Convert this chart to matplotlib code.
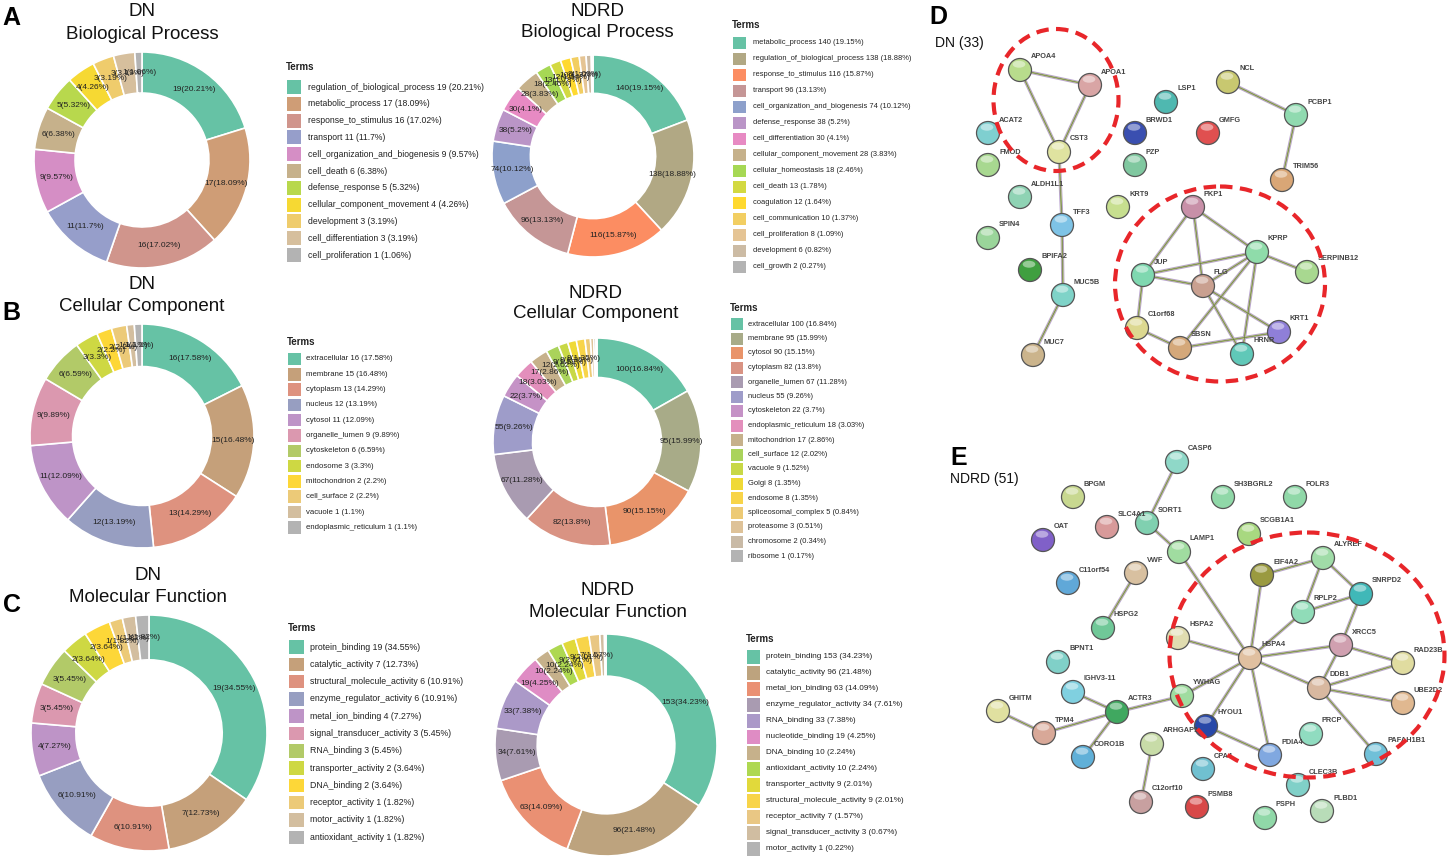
import matplotlib
matplotlib.use("Agg")
import matplotlib.pyplot as plt
from matplotlib.patches import Rectangle, Circle, Ellipse
from matplotlib.colors import LinearSegmentedColormap
import numpy as np

plt.rcParams['font.family'] = ['Liberation Sans', 'DejaVu Sans']

W, H = 1447, 858

# ---------------- data ----------------
dn_bp_terms = ["regulation_of_biological_process", "metabolic_process", "response_to_stimulus",
               "transport", "cell_organization_and_biogenesis", "cell_death", "defense_response",
               "cellular_component_movement", "development", "cell_differentiation", "cell_proliferation"]
dn_bp_counts = [19, 17, 16, 11, 9, 6, 5, 4, 3, 3, 1]
dn_bp_pcts = [20.21, 18.09, 17.02, 11.7, 9.57, 6.38, 5.32, 4.26, 3.19, 3.19, 1.06]

ndrd_bp_terms = ["metabolic_process", "regulation_of_biological_process", "response_to_stimulus",
                 "transport", "cell_organization_and_biogenesis", "defense_response",
                 "cell_differentiation", "cellular_component_movement", "cellular_homeostasis",
                 "cell_death", "coagulation", "cell_communication", "cell_proliferation",
                 "development", "cell_growth"]
ndrd_bp_counts = [140, 138, 116, 96, 74, 38, 30, 28, 18, 13, 12, 10, 8, 6, 2]
ndrd_bp_pcts = [19.15, 18.88, 15.87, 13.13, 10.12, 5.2, 4.1, 3.83, 2.46, 1.78, 1.64, 1.37, 1.09, 0.82, 0.27]

dn_cc_terms = ["extracellular", "membrane", "cytoplasm", "nucleus", "cytosol", "organelle_lumen",
               "cytoskeleton", "endosome", "mitochondrion", "cell_surface", "vacuole",
               "endoplasmic_reticulum"]
dn_cc_counts = [16, 15, 13, 12, 11, 9, 6, 3, 2, 2, 1, 1]
dn_cc_pcts = [17.58, 16.48, 14.29, 13.19, 12.09, 9.89, 6.59, 3.3, 2.2, 2.2, 1.1, 1.1]

ndrd_cc_terms = ["extracellular", "membrane", "cytosol", "cytoplasm", "organelle_lumen", "nucleus",
                 "cytoskeleton", "endoplasmic_reticulum", "mitochondrion", "cell_surface", "vacuole",
                 "Golgi", "endosome", "spliceosomal_complex", "proteasome", "chromosome", "ribosome"]
ndrd_cc_counts = [100, 95, 90, 82, 67, 55, 22, 18, 17, 12, 9, 8, 8, 5, 3, 2, 1]
ndrd_cc_pcts = [16.84, 15.99, 15.15, 13.8, 11.28, 9.26, 3.7, 3.03, 2.86, 2.02, 1.52, 1.35, 1.35,
                0.84, 0.51, 0.34, 0.17]

dn_mf_terms = ["protein_binding", "catalytic_activity", "structural_molecule_activity",
               "enzyme_regulator_activity", "metal_ion_binding", "signal_transducer_activity",
               "RNA_binding", "transporter_activity", "DNA_binding", "receptor_activity",
               "motor_activity", "antioxidant_activity"]
dn_mf_counts = [19, 7, 6, 6, 4, 3, 3, 2, 2, 1, 1, 1]
dn_mf_pcts = [34.55, 12.73, 10.91, 10.91, 7.27, 5.45, 5.45, 3.64, 3.64, 1.82, 1.82, 1.82]

ndrd_mf_terms = ["protein_binding", "catalytic_activity", "metal_ion_binding",
                 "enzyme_regulator_activity", "RNA_binding", "nucleotide_binding", "DNA_binding",
                 "antioxidant_activity", "transporter_activity", "structural_molecule_activity",
                 "receptor_activity", "signal_transducer_activity", "motor_activity"]
ndrd_mf_counts = [153, 96, 63, 34, 33, 19, 10, 10, 9, 9, 7, 3, 1]
ndrd_mf_pcts = [34.23, 21.48, 14.09, 7.61, 7.38, 4.25, 2.24, 2.24, 2.01, 2.01, 1.57, 0.67, 0.22]

# network D (DN)
dn_nodes = ["APOA4", "APOA1", "CST3", "ACAT2", "FMOD", "ALDH1L1", "TFF3", "SPIN4", "BPIFA2",
            "MUC5B", "MUC7", "LSP1", "BRWD1", "PZP", "KRT9", "GMFG", "NCL", "PCBP1", "TRIM56",
            "PKP1", "KPRP", "SERPINB12", "JUP", "FLG", "C1orf68", "SBSN", "HRNR", "KRT1"]
dn_edges = [("APOA4", "APOA1"), ("APOA4", "CST3"), ("APOA1", "CST3"), ("CST3", "TFF3"),
            ("TFF3", "MUC5B"), ("MUC5B", "MUC7"), ("NCL", "PCBP1"), ("PCBP1", "TRIM56"),
            ("PKP1", "JUP"), ("PKP1", "FLG"), ("PKP1", "KPRP"), ("JUP", "FLG"), ("JUP", "KPRP"),
            ("JUP", "C1orf68"), ("KPRP", "SERPINB12"), ("KPRP", "FLG"), ("KPRP", "SBSN"),
            ("KPRP", "HRNR"), ("FLG", "HRNR"), ("FLG", "KRT1"), ("C1orf68", "SBSN"),
            ("SBSN", "KRT1")]

# network E (NDRD)
ndrd_nodes = ["CASP6", "BPGM", "SH3BGRL2", "FOLR3", "SLC4A1", "SORT1", "OAT", "SCGB1A1", "LAMP1",
              "ALYREF", "EIF4A2", "C11orf54", "VWF", "SNRPD2", "RPLP2", "HSPG2", "HSPA2", "XRCC5",
              "HSPA4", "BPNT1", "RAD23B", "DDB1", "IGHV3-11", "YWHAG", "UBE2D2", "GHITM", "ACTR3",
              "TPM4", "HYOU1", "PRCP", "ARHGAP1", "CORO1B", "PDIA4", "PAFAH1B1", "CPA4", "CLEC3B",
              "C12orf10", "PSMB8", "PLBD1", "PSPH"]
ndrd_edges = [("CASP6", "SORT1"), ("SORT1", "LAMP1"), ("LAMP1", "HSPA4"), ("VWF", "HSPG2"),
              ("HSPA4", "EIF4A2"), ("HSPA4", "RPLP2"), ("HSPA4", "HSPA2"), ("HSPA4", "XRCC5"),
              ("HSPA4", "DDB1"), ("HSPA4", "YWHAG"), ("HSPA4", "HYOU1"), ("HSPA4", "PDIA4"),
              ("EIF4A2", "ALYREF"), ("ALYREF", "RPLP2"), ("ALYREF", "SNRPD2"), ("RPLP2", "SNRPD2"),
              ("SNRPD2", "XRCC5"), ("XRCC5", "RAD23B"), ("XRCC5", "DDB1"), ("DDB1", "RAD23B"),
              ("DDB1", "UBE2D2"), ("DDB1", "PAFAH1B1"), ("YWHAG", "ACTR3"), ("ACTR3", "IGHV3-11"),
              ("ACTR3", "TPM4"), ("ACTR3", "CORO1B"), ("TPM4", "GHITM"), ("HYOU1", "PDIA4"),
              ("ARHGAP1", "C12orf10")]

# ---------------- layout (pixel positions) ----------------
dn_layout = {"APOA4": (1020, 70), "APOA1": (1090, 85), "CST3": (1059, 152), "ACAT2": (988, 133),
             "FMOD": (988, 165), "ALDH1L1": (1020, 197), "TFF3": (1062, 225), "SPIN4": (988, 238),
             "BPIFA2": (1030, 270), "MUC5B": (1063, 295), "MUC7": (1033, 355), "LSP1": (1166, 102),
             "BRWD1": (1135, 133), "PZP": (1135, 165), "KRT9": (1118, 207), "GMFG": (1208, 133),
             "NCL": (1228, 82), "PCBP1": (1296, 115), "TRIM56": (1282, 180), "PKP1": (1193, 207),
             "KPRP": (1257, 252), "SERPINB12": (1307, 272), "JUP": (1143, 275), "FLG": (1203, 286),
             "C1orf68": (1137, 328), "SBSN": (1180, 348), "HRNR": (1242, 354), "KRT1": (1279, 332)}
dn_colors = {"APOA4": "#b8dc8c", "APOA1": "#d9a5a5", "CST3": "#dfe3a0", "ACAT2": "#7fcfd0",
             "FMOD": "#a8d890", "ALDH1L1": "#8fd3b4", "TFF3": "#7ec3e6", "SPIN4": "#9ad59a",
             "BPIFA2": "#3f9f40", "MUC5B": "#7fd3c8", "MUC7": "#cbb48c", "LSP1": "#4fb8b0",
             "BRWD1": "#3a4fb0", "PZP": "#80c8a0", "KRT9": "#c7df8f", "GMFG": "#e05050",
             "NCL": "#c8c870", "PCBP1": "#90dab0", "TRIM56": "#d9a676", "PKP1": "#c890a8",
             "KPRP": "#8fdcaa", "SERPINB12": "#a8d890", "JUP": "#7fd8b0", "FLG": "#c9a090",
             "C1orf68": "#dcd890", "SBSN": "#d4a87a", "HRNR": "#60c8b8", "KRT1": "#8f7fd8"}

ndrd_layout = {"CASP6": (1177, 462), "BPGM": (1073, 497), "SH3BGRL2": (1223, 497),
               "FOLR3": (1295, 497), "SLC4A1": (1107, 527), "SORT1": (1147, 523), "OAT": (1043, 540),
               "SCGB1A1": (1249, 534), "LAMP1": (1179, 552), "ALYREF": (1323, 558),
               "EIF4A2": (1262, 575), "C11orf54": (1068, 583), "VWF": (1136, 573),
               "SNRPD2": (1361, 594), "RPLP2": (1303, 612), "HSPG2": (1103, 628), "HSPA2": (1178, 638),
               "XRCC5": (1341, 645), "HSPA4": (1250, 658), "BPNT1": (1058, 662), "RAD23B": (1403, 663),
               "DDB1": (1319, 688), "IGHV3-11": (1073, 692), "YWHAG": (1182, 696),
               "UBE2D2": (1403, 703), "GHITM": (998, 711), "ACTR3": (1117, 712), "TPM4": (1044, 733),
               "HYOU1": (1206, 726), "PRCP": (1311, 734), "ARHGAP1": (1152, 744),
               "CORO1B": (1083, 757), "PDIA4": (1270, 755), "PAFAH1B1": (1376, 754),
               "CPA4": (1203, 769), "CLEC3B": (1298, 785), "C12orf10": (1141, 802),
               "PSMB8": (1197, 807), "PLBD1": (1322, 811), "PSPH": (1265, 818)}
ndrd_colors = {"CASP6": "#8fd8c8", "BPGM": "#c8d890", "SH3BGRL2": "#90d8a8", "FOLR3": "#90d8a8",
               "SLC4A1": "#d89a9a", "SORT1": "#80d0b0", "OAT": "#8060c8", "SCGB1A1": "#a8d880",
               "LAMP1": "#a0dca0", "ALYREF": "#a0dca8", "EIF4A2": "#9a9a40", "C11orf54": "#60a8d8",
               "VWF": "#d8c0a0", "SNRPD2": "#40b8b8", "RPLP2": "#90dcb8", "HSPG2": "#70c898",
               "HSPA2": "#e0dcb0", "XRCC5": "#d0a0b0", "HSPA4": "#e0c0a0", "BPNT1": "#80d0c8",
               "RAD23B": "#e0dca0", "DDB1": "#d8b8a0", "IGHV3-11": "#80d0e0", "YWHAG": "#a0dca0",
               "UBE2D2": "#e0b890", "GHITM": "#e0e0a0", "ACTR3": "#40a860", "TPM4": "#d8a898",
               "HYOU1": "#2848a8", "PRCP": "#90dcc0", "ARHGAP1": "#c8dca8", "CORO1B": "#60b0d8",
               "PDIA4": "#80a8e0", "PAFAH1B1": "#70c0d8", "CPA4": "#70c0d0", "CLEC3B": "#80d0c8",
               "C12orf10": "#c8a0a0", "PSMB8": "#d84848", "PLBD1": "#b8dcb8", "PSPH": "#90d8a8"}

# ---------------- figure ----------------
fig = plt.figure(figsize=(W / 100, H / 100), dpi=100)
ov = fig.add_axes([0, 0, 1, 1])
ov.set_xlim(0, W)
ov.set_ylim(H, 0)
ov.axis('off')

SET2 = ['#66c2a5', '#fc8d62', '#8da0cb', '#e78ac3', '#a6d854', '#ffd92f', '#e5c494', '#b3b3b3']
ramp = LinearSegmentedColormap.from_list('ramp', SET2, N=1024)


def palette(n):
    return [ramp(i / (n - 1)) for i in range(n)]


def donut(cx, cy, R, counts, pcts, fs=6.0):
    ax = fig.add_axes([(cx - R) / W, 1 - (cy + R) / H, 2 * R / W, 2 * R / H])
    cols = palette(len(counts))
    wedges, _ = ax.pie(counts, colors=cols, startangle=90, counterclock=False, radius=1,
                       wedgeprops=dict(width=0.38, edgecolor='white', linewidth=1.2))
    for w, c, p in zip(wedges, counts, pcts):
        if p < 1.0:
            continue  # tiny slices carry no label in the original
        ang = np.deg2rad((w.theta1 + w.theta2) / 2)
        ax.text(0.81 * np.cos(ang), 0.81 * np.sin(ang), f"{c}({p:g}%)", ha='center',
                va='center', fontsize=fs, color='#222222')
    ax.set_xlim(-1, 1)
    ax.set_ylim(-1, 1)
    ax.set_aspect('equal')
    ax.axis('off')


def legend(x, ty, y0, dy, pw, ph, tx, names, counts, pcts, fs, tfs=7.0):
    cols = palette(len(names))
    ov.text(x, ty, 'Terms', fontsize=tfs, fontweight='bold', va='center', ha='left',
            color='#222222')
    for i, (n, c, p) in enumerate(zip(names, counts, pcts)):
        y = y0 + i * dy
        ov.add_patch(Rectangle((x + 1, y - ph / 2), pw, ph, facecolor=cols[i], edgecolor='none'))
        ov.text(tx, y, f"{n} {c} ({p:g}%)", fontsize=fs, va='center', ha='left',
                color='#222222')


def titles(cx, y1, y2, t1, t2, fs=13.5):
    ov.text(cx, y1, t1, ha='center', va='baseline', fontsize=fs, color='#111111')
    ov.text(cx, y2, t2, ha='center', va='baseline', fontsize=fs, color='#111111')


# Panel A
titles(142, 16, 39, "DN", "Biological Process")
donut(142, 160, 108, dn_bp_counts, dn_bp_pcts)
legend(286, 67, 87, 16.8, 14, 14, 308, dn_bp_terms, dn_bp_counts, dn_bp_pcts, 6.2)

titles(597, 16, 37, "NDRD", "Biological Process")
donut(593, 156, 101, ndrd_bp_counts, ndrd_bp_pcts)
legend(732, 25, 43, 16.0, 13, 12, 753, ndrd_bp_terms, ndrd_bp_counts, ndrd_bp_pcts, 5.4)

# Panel B
titles(142, 289, 311, "DN", "Cellular Component")
donut(142, 436, 112, dn_cc_counts, dn_cc_pcts)
legend(287, 342, 359, 15.3, 13, 12.5, 306, dn_cc_terms, dn_cc_counts, dn_cc_pcts, 5.6)

titles(596, 298, 318, "NDRD", "Cellular Component")
donut(597, 442, 104, ndrd_cc_counts, ndrd_cc_pcts)
legend(730, 308, 324, 14.5, 12, 12, 748, ndrd_cc_terms, ndrd_cc_counts, ndrd_cc_pcts, 5.4)

# Panel C
titles(148, 580, 602, "DN", "Molecular Function")
donut(149, 733, 118, dn_mf_counts, dn_mf_pcts)
legend(288, 628, 647, 17.3, 15, 13.5, 310, dn_mf_terms, dn_mf_counts, dn_mf_pcts, 6.3)

titles(608, 595, 617, "NDRD", "Molecular Function")
donut(606, 745, 111, ndrd_mf_counts, ndrd_mf_pcts)
legend(746, 639, 657, 16.0, 13, 13.5, 766, ndrd_mf_terms, ndrd_mf_counts, ndrd_mf_pcts, 5.9)

# panel letters
for lx, ly, s in [(2, 25, "A"), (2, 320, "B"), (3, 612, "C"), (929, 24, "D"), (950, 465, "E")]:
    ov.text(lx, ly, s, fontsize=18, fontweight='bold', ha='left', va='baseline', color='black')
ov.text(935, 47, "DN (33)", fontsize=10, ha='left', va='baseline', color='#111111')
ov.text(950, 483, "NDRD (51)", fontsize=10, ha='left', va='baseline', color='#111111')


# networks
def network(nodes, edges, layout, colors, r=11.5):
    for a, b in edges:
        (x1, y1), (x2, y2) = layout[a], layout[b]
        ov.plot([x1, x2], [y1, y2], color='#b9a3cf', lw=2.4, solid_capstyle='round', zorder=2)
        ov.plot([x1, x2], [y1, y2], color='#b3cf62', lw=1.1, zorder=2.1)
        ov.plot([x1, x2], [y1, y2], color='#555555', lw=0.35, zorder=2.2)
    for n in nodes:
        x, y = layout[n]
        ov.add_patch(Circle((x, y), r, facecolor=colors[n], edgecolor='#555555', lw=0.9,
                            zorder=3))
        ov.add_patch(Ellipse((x - 1, y - r * 0.5), r * 1.1, r * 0.6, facecolor='white',
                             alpha=0.45, edgecolor='none', zorder=3.1))
        ov.text(x + 11, y - 13, n, fontsize=5.3, fontweight='bold', color='#444444',
                ha='left', va='center', zorder=4)


network(dn_nodes, dn_edges, dn_layout, dn_colors)
network(ndrd_nodes, ndrd_edges, ndrd_layout, ndrd_colors)

red_dash = dict(facecolor='none', edgecolor='#e8262a', lw=3.0, linestyle=(0, (3, 1.8)), zorder=5)
ov.add_patch(Ellipse((1056, 100), 125, 142, **red_dash))
ov.add_patch(Ellipse((1220, 284), 210, 195, **red_dash))
ov.add_patch(Ellipse((1307, 655), 275, 245, **red_dash))

fig.savefig("out.png", dpi=100)
